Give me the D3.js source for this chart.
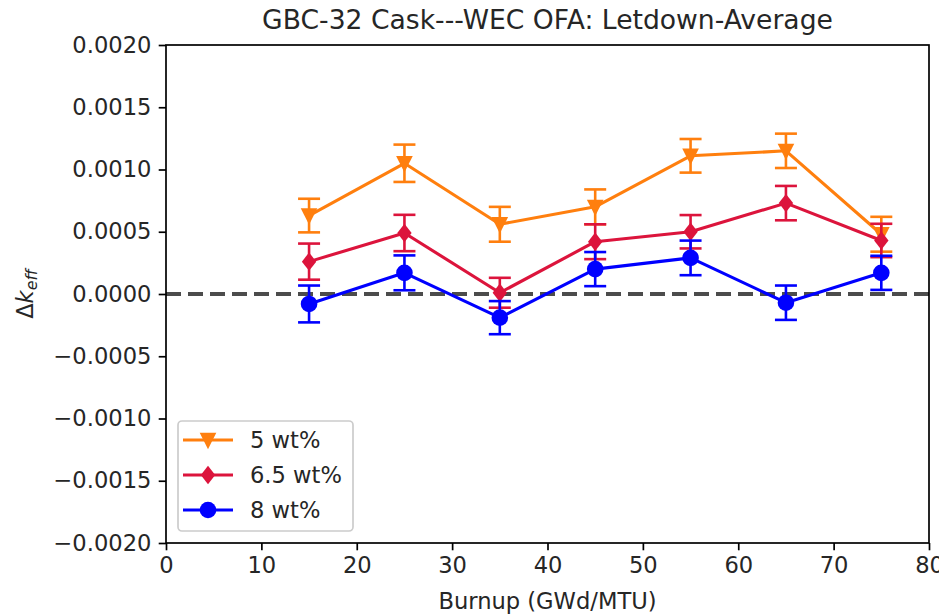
<!DOCTYPE html>
<html>
<head>
<meta charset="utf-8">
<script src="https://cdn.jsdelivr.net/npm/d3@7"></script>
<style>
  html, body { margin: 0; padding: 0; background: #fff; }
  svg { display: block; font-family: "DejaVu Sans", sans-serif; }
</style>
</head>
<body>
<svg id="chart" width="939" height="614"></svg>
<script>
// Burnup points (GWd/MTU)
const burnup = [15, 25, 35, 45, 55, 65, 75];

// Δk_eff per enrichment, with 1-sigma uncertainties
const wt5 = [0.00063, 0.00105, 0.00056, 0.00070, 0.00111, 0.00115, 0.00048];
const wt5Err = [0.000135, 0.00015, 0.00014, 0.00014, 0.000135, 0.000138, 0.00014];
const wt65 = [0.00026, 0.00049, 0.00001, 0.00042, 0.00050, 0.00073, 0.00043];
const wt65Err = [0.000145, 0.000146, 0.00012, 0.00014, 0.000134, 0.000138, 0.000134];
const wt8 = [-0.00008, 0.00017, -0.00019, 0.00020, 0.00029, -0.00007, 0.00017];
const wt8Err = [0.000148, 0.00014, 0.000133, 0.000137, 0.000139, 0.000138, 0.000137];

const seriesNames = ["5 wt%", "6.5 wt%", "8 wt%"];
const seriesColors = ["#ff7f0e", "#dc143c", "#0000ff"];
const seriesMarkers = ["triangleDown", "diamond", "circle"];

const xTicks = [0, 10, 20, 30, 40, 50, 60, 70, 80];
const yTicks = [-0.002, -0.0015, -0.001, -0.0005, 0, 0.0005, 0.001, 0.0015, 0.002];

const titleText = "GBC-32 Cask---WEC OFA: Letdown-Average";
const xLabelText = "Burnup (GWd/MTU)";

const series = [
  { name: seriesNames[0], values: wt5, errs: wt5Err, color: seriesColors[0], marker: seriesMarkers[0] },
  { name: seriesNames[1], values: wt65, errs: wt65Err, color: seriesColors[1], marker: seriesMarkers[1] },
  { name: seriesNames[2], values: wt8, errs: wt8Err, color: seriesColors[2], marker: seriesMarkers[2] }
];

const svg = d3.select("#chart");
const plotL = 166, plotR = 929, plotT = 45, plotB = 543;
const fs = 22.6;

const x = d3.scaleLinear().domain([0, 80]).range([plotL, plotR]);
const y = d3.scaleLinear().domain([-0.002, 0.002]).range([plotB, plotT]);

// marker path generators, centred on the origin
function markerPath(kind) {
  if (kind === "circle") return d3.symbol().type(d3.symbolCircle).size(Math.PI * 8.3 * 8.3)();
  if (kind === "diamond") return "M0,-9.2L7.2,0L0,9.2L-7.2,0Z";
  // downward triangle
  return "M-8.3,-7.2L8.3,-7.2L0,9.2Z";
}

// zero reference line
svg.append("line")
  .attr("x1", plotL).attr("x2", plotR)
  .attr("y1", y(0)).attr("y2", y(0))
  .attr("stroke", "#000").attr("stroke-opacity", 0.7)
  .attr("stroke-width", 4)
  .attr("stroke-dasharray", "15,7");

const line = d3.line().x((d, i) => x(burnup[i])).y(d => y(d));

series.forEach(s => {
  const g = svg.append("g");
  const eb = g.append("g").attr("stroke", s.color).attr("stroke-width", 2.6);
  s.values.forEach((v, i) => {
    const cx = x(burnup[i]);
    const y0 = y(v - s.errs[i]), y1 = y(v + s.errs[i]);
    eb.append("line").attr("x1", cx).attr("x2", cx).attr("y1", y0).attr("y2", y1);
    eb.append("line").attr("x1", cx - 11).attr("x2", cx + 11).attr("y1", y0).attr("y2", y0);
    eb.append("line").attr("x1", cx - 11).attr("x2", cx + 11).attr("y1", y1).attr("y2", y1);
  });
  g.append("path")
    .attr("d", line(s.values))
    .attr("fill", "none")
    .attr("stroke", s.color)
    .attr("stroke-width", 3.1)
    .attr("stroke-linejoin", "round");
  g.selectAll("path.mk")
    .data(s.values)
    .join("path")
    .attr("class", "mk")
    .attr("d", markerPath(s.marker))
    .attr("transform", (d, i) => `translate(${x(burnup[i])},${y(d)})`)
    .attr("fill", s.color);
});

// axes frame
svg.append("rect")
  .attr("x", plotL).attr("y", plotT)
  .attr("width", plotR - plotL).attr("height", plotB - plotT)
  .attr("fill", "none").attr("stroke", "#000").attr("stroke-width", 1.7);

// x axis
const xAxis = d3.axisBottom(x).tickValues(xTicks).tickSize(7.3).tickPadding(6.5)
  .tickFormat(d3.format("d"));
const gx = svg.append("g").attr("transform", `translate(0,${plotB})`).call(xAxis);
gx.select(".domain").remove();
gx.selectAll(".tick line").attr("stroke", "#000").attr("stroke-width", 1.7);
gx.selectAll(".tick text").attr("font-size", fs).attr("fill", "#262626")
  .attr("font-family", "DejaVu Sans");

// y axis
const fmtY = v => {
  const s = Math.abs(v).toFixed(4);
  return (v < 0 ? "\u2212" : "") + s;
};
const yAxis = d3.axisLeft(y).tickValues(yTicks).tickSize(7.3).tickPadding(7.3)
  .tickFormat(fmtY);
const gy = svg.append("g").attr("transform", `translate(${plotL},0)`).call(yAxis);
gy.select(".domain").remove();
gy.selectAll(".tick line").attr("stroke", "#000").attr("stroke-width", 1.7);
gy.selectAll(".tick text").attr("font-size", fs).attr("fill", "#262626")
  .attr("font-family", "DejaVu Sans");

// title
svg.append("text")
  .attr("x", (plotL + plotR) / 2).attr("y", 29)
  .attr("text-anchor", "middle")
  .attr("font-size", 26.6).attr("fill", "#262626")
  .text(titleText);

// x label
svg.append("text")
  .attr("x", (plotL + plotR) / 2).attr("y", 609)
  .attr("text-anchor", "middle")
  .attr("font-size", fs).attr("fill", "#262626")
  .text(xLabelText);

// y label: Δk_eff
const yl = svg.append("text")
  .attr("transform", `translate(33,${(plotT + plotB) / 2}) rotate(-90)`)
  .attr("text-anchor", "middle")
  .attr("font-size", fs).attr("fill", "#262626");
yl.append("tspan").text("\u0394");
yl.append("tspan").attr("font-style", "italic").text("k");
yl.append("tspan").attr("font-style", "italic").attr("font-size", fs * 0.7)
  .attr("dy", 4).text("eff");

// legend
const lg = svg.append("g");
lg.append("rect")
  .attr("x", 178).attr("y", 421).attr("width", 175).attr("height", 110)
  .attr("rx", 4).attr("ry", 4)
  .attr("fill", "#fff").attr("fill-opacity", 0.8)
  .attr("stroke", "#cccccc").attr("stroke-width", 1.7);
series.forEach((s, i) => {
  const ry = 440 + i * 35;
  lg.append("line").attr("x1", 183).attr("x2", 233).attr("y1", ry).attr("y2", ry)
    .attr("stroke", s.color).attr("stroke-width", 3.1);
  lg.append("path").attr("d", markerPath(s.marker))
    .attr("transform", `translate(208,${ry})`).attr("fill", s.color);
  lg.append("text").attr("x", 250).attr("y", ry + 8)
    .attr("font-size", fs).attr("fill", "#262626").text(s.name);
});
</script>
</body>
</html>
